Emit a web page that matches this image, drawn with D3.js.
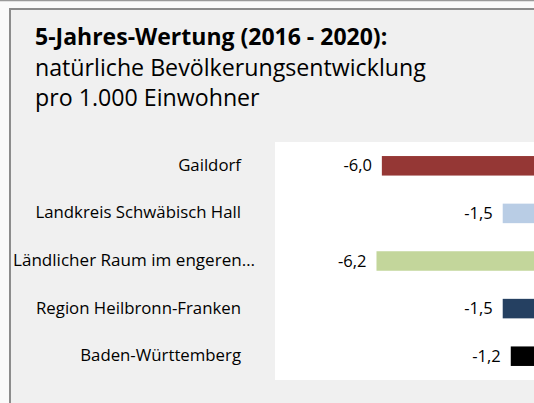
<!DOCTYPE html>
<meta charset="utf-8">
<script src="https://d3js.org/d3.v7.min.js"></script>
<style>
  body { margin: 0; background: #fafafa; }
  text { font-family: "Open Sans", Lato, sans-serif; fill: #000; }
</style>
<div id="chart"></div>
<script>

    var categories = ["Gaildorf", "Landkreis Schwäbisch Hall", "Ländlicher Raum im engeren…", "Region Heilbronn-Franken", "Baden-Württemberg"];
    var values = [-6.0, -1.5, -6.2, -1.5, -1.2];
    var barColors = ["#953735", "#b9cde5", "#c3d69b", "#254061", "#000000"];
    var titleLines = ["5-Jahres-Wertung (2016 - 2020):", "natürliche Bevölkerungsentwicklung", "pro 1.000 Einwohner"];

    var width = 534, height = 403;

    var svg = d3.select("#chart")
      .append("svg")
        .attr("width", width)
        .attr("height", height);

    // outer frame
    svg.append("line")
        .attr("x1", 0).attr("x2", width)
        .attr("y1", 0.5).attr("y2", 0.5)
        .style("stroke", "#999")
        .style("stroke-width", 1.5);

    svg.append("rect")
        .attr("x", 10)
        .attr("y", 9)
        .attr("width", width + 20)
        .attr("height", height + 20)
        .style("fill", "#f0f0f0")
        .style("stroke", "#8c8c8c")
        .style("stroke-width", 2);

    // title
    svg.append("g").selectAll("text")
      .data(titleLines)
      .enter()
      .append("text")
        .attr("x", 35)
        .attr("y", function(d, i) { return 45 + i * 30.5; })
        .style("font-size", function(d, i) { return i == 0 ? "23px" : "23.2px"; })
        .style("font-weight", function(d, i) { return i == 0 ? "bold" : "normal"; })
        .text(function(d) { return d; });

    // plot area
    var plotTop = 142, plotBottom = 380;
    svg.append("rect")
        .attr("x", 275)
        .attr("y", plotTop)
        .attr("width", width)
        .attr("height", plotBottom - plotTop)
        .style("fill", "#fff");

    var x = d3.scaleLinear()
      .domain([-7, 0])
      .range([355, 543]);

    var y = d3.scaleBand()
      .domain(categories)
      .range([plotTop, plotBottom])
      .paddingInner(0.59)
      .paddingOuter(0.295);

    svg.append("g")
      .selectAll("rect")
      .data(values)
      .enter()
      .append("rect")
        .attr("x", function(d) { return x(d); })
        .attr("y", function(d, i) { return y(categories[i]); })
        .attr("width", function(d) { return x(0) - x(d); })
        .attr("height", y.bandwidth())
        .style("fill", function(d, i) { return barColors[i]; });

    var fmt = function(d) { return d3.format(".1f")(d).replace("−", "-").replace(".", ","); };

    // value labels
    svg.append("g")
      .selectAll("text")
      .data(values)
      .enter()
      .append("text")
        .attr("text-anchor", "end")
        .attr("x", function(d) { return x(d) - 10; })
        .attr("y", function(d, i) { return y(categories[i]) + y.bandwidth() / 2 + 5.5; })
        .style("font-size", "16.5px")
        .text(fmt);

    // category labels, right aligned, long ones pushed right and fitted
    var catLabels = svg.append("g")
      .selectAll("text")
      .data(categories)
      .enter()
      .append("text")
        .attr("text-anchor", "end")
        .attr("x", 241)
        .attr("y", function(d) { return y(d) + y.bandwidth() / 2 + 5; })
        .style("font-size", "16.8px")
        .text(function(d) { return d; });

    catLabels.each(function() {
      var w = this.getComputedTextLength();
      if (241 - w < 13) {
        d3.select(this)
          .attr("text-anchor", "start")
          .attr("x", 13)
          .attr("textLength", 242)
          .attr("lengthAdjust", "spacingAndGlyphs");
      }
    });

</script>
